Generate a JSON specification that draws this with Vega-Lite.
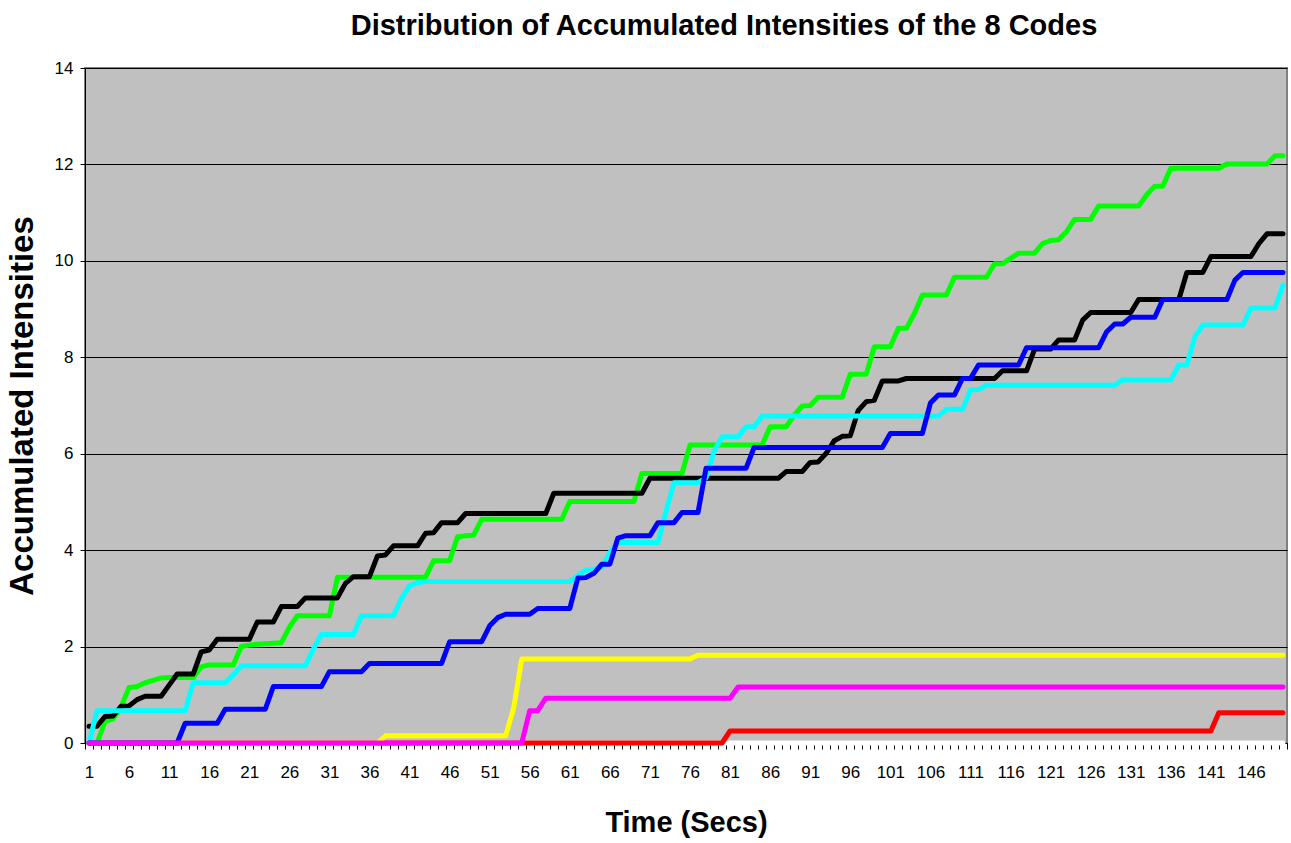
{
"$schema": "https://vega.github.io/schema/vega-lite/v6.json",
"width": 1202,
"height": 675,
"autosize": "none",
"padding": {"left": 85, "top": 68, "right": 4, "bottom": 100},
"background": "white",
"title": {"text": "Distribution of Accumulated Intensities of the 8 Codes", "font": "Liberation Sans", "fontSize": 29, "fontWeight": "bold", "color": "black", "anchor": "middle", "dx": 38, "offset": 18},
"config": {"view": {"fill": "#C0C0C0", "stroke": "#808080", "strokeWidth": 2}},
"data": {"values": [
{"t":1,"w":0,"r":0,"y":0,"g":0,"k":0.35,"c":0,"b":0,"m":0},
{"t":2,"w":0,"r":0,"y":0,"g":0,"k":0.35,"c":0.67,"b":0,"m":0},
{"t":3,"w":0,"r":0,"y":0,"g":0.45,"k":0.55,"c":0.67,"b":0,"m":0},
{"t":4,"w":0,"r":0,"y":0,"g":0.5,"k":0.56,"c":0.67,"b":0,"m":0},
{"t":5,"w":0,"r":0,"y":0,"g":0.75,"k":0.76,"c":0.67,"b":0,"m":0},
{"t":6,"w":0,"r":0,"y":0,"g":1.15,"k":0.77,"c":0.67,"b":0,"m":0},
{"t":7,"w":0,"r":0,"y":0,"g":1.17,"k":0.9,"c":0.67,"b":0,"m":0},
{"t":8,"w":0,"r":0,"y":0,"g":1.25,"k":0.97,"c":0.67,"b":0,"m":0},
{"t":9,"w":0,"r":0,"y":0,"g":1.3,"k":0.97,"c":0.67,"b":0,"m":0},
{"t":10,"w":0,"r":0,"y":0,"g":1.35,"k":0.97,"c":0.67,"b":0,"m":0},
{"t":11,"w":0,"r":0,"y":0,"g":1.36,"k":1.2,"c":0.67,"b":0,"m":0},
{"t":12,"w":0,"r":0,"y":0,"g":1.36,"k":1.43,"c":0.67,"b":0,"m":0},
{"t":13,"w":0,"r":0,"y":0,"g":1.36,"k":1.43,"c":0.67,"b":0.41,"m":0},
{"t":14,"w":0,"r":0,"y":0,"g":1.36,"k":1.43,"c":1.25,"b":0.41,"m":0},
{"t":15,"w":0,"r":0,"y":0,"g":1.58,"k":1.89,"c":1.25,"b":0.41,"m":0},
{"t":16,"w":0,"r":0,"y":0,"g":1.62,"k":1.93,"c":1.25,"b":0.41,"m":0},
{"t":17,"w":0,"r":0,"y":0,"g":1.62,"k":2.15,"c":1.25,"b":0.41,"m":0},
{"t":18,"w":0,"r":0,"y":0,"g":1.62,"k":2.15,"c":1.25,"b":0.7,"m":0},
{"t":19,"w":0,"r":0,"y":0,"g":1.62,"k":2.15,"c":1.41,"b":0.7,"m":0},
{"t":20,"w":0,"r":0,"y":0,"g":2.0,"k":2.15,"c":1.6,"b":0.7,"m":0},
{"t":21,"w":0,"r":0,"y":0,"g":2.03,"k":2.15,"c":1.6,"b":0.7,"m":0},
{"t":22,"w":0,"r":0,"y":0,"g":2.05,"k":2.51,"c":1.6,"b":0.7,"m":0},
{"t":23,"w":0,"r":0,"y":0,"g":2.06,"k":2.51,"c":1.6,"b":0.7,"m":0},
{"t":24,"w":0,"r":0,"y":0,"g":2.07,"k":2.51,"c":1.6,"b":1.17,"m":0},
{"t":25,"w":0,"r":0,"y":0,"g":2.08,"k":2.83,"c":1.6,"b":1.17,"m":0},
{"t":26,"w":0,"r":0,"y":0,"g":2.4,"k":2.83,"c":1.6,"b":1.17,"m":0},
{"t":27,"w":0,"r":0,"y":0,"g":2.64,"k":2.83,"c":1.6,"b":1.17,"m":0},
{"t":28,"w":0,"r":0,"y":0,"g":2.64,"k":3.01,"c":1.6,"b":1.17,"m":0},
{"t":29,"w":0,"r":0,"y":0,"g":2.64,"k":3.01,"c":1.95,"b":1.17,"m":0},
{"t":30,"w":0,"r":0,"y":0,"g":2.64,"k":3.01,"c":2.25,"b":1.17,"m":0},
{"t":31,"w":0,"r":0,"y":0,"g":2.64,"k":3.01,"c":2.25,"b":1.48,"m":0},
{"t":32,"w":0,"r":0,"y":0,"g":3.44,"k":3.01,"c":2.25,"b":1.48,"m":0},
{"t":33,"w":0,"r":0,"y":0,"g":3.44,"k":3.31,"c":2.25,"b":1.48,"m":0},
{"t":34,"w":0,"r":0,"y":0,"g":3.44,"k":3.45,"c":2.25,"b":1.48,"m":0},
{"t":35,"w":0,"r":0,"y":0,"g":3.44,"k":3.45,"c":2.64,"b":1.48,"m":0},
{"t":36,"w":0,"r":0,"y":0,"g":3.44,"k":3.45,"c":2.64,"b":1.65,"m":0},
{"t":37,"w":0,"r":0,"y":0,"g":3.44,"k":3.88,"c":2.64,"b":1.65,"m":0},
{"t":38,"w":0,"r":0,"y":0.15,"g":3.44,"k":3.9,"c":2.64,"b":1.65,"m":0},
{"t":39,"w":0,"r":0,"y":0.15,"g":3.44,"k":4.09,"c":2.64,"b":1.65,"m":0},
{"t":40,"w":0,"r":0,"y":0.15,"g":3.44,"k":4.09,"c":3.0,"b":1.65,"m":0},
{"t":41,"w":0,"r":0,"y":0.15,"g":3.44,"k":4.09,"c":3.26,"b":1.65,"m":0},
{"t":42,"w":0,"r":0,"y":0.15,"g":3.44,"k":4.09,"c":3.33,"b":1.65,"m":0},
{"t":43,"w":0,"r":0,"y":0.15,"g":3.44,"k":4.35,"c":3.35,"b":1.65,"m":0},
{"t":44,"w":0,"r":0,"y":0.15,"g":3.78,"k":4.36,"c":3.35,"b":1.65,"m":0},
{"t":45,"w":0,"r":0,"y":0.15,"g":3.78,"k":4.57,"c":3.35,"b":1.65,"m":0},
{"t":46,"w":0,"r":0,"y":0.15,"g":3.78,"k":4.57,"c":3.35,"b":2.1,"m":0},
{"t":47,"w":0,"r":0,"y":0.15,"g":4.28,"k":4.57,"c":3.35,"b":2.1,"m":0},
{"t":48,"w":0,"r":0,"y":0.15,"g":4.3,"k":4.76,"c":3.35,"b":2.1,"m":0},
{"t":49,"w":0,"r":0,"y":0.15,"g":4.31,"k":4.76,"c":3.35,"b":2.1,"m":0},
{"t":50,"w":0,"r":0,"y":0.15,"g":4.64,"k":4.76,"c":3.35,"b":2.1,"m":0},
{"t":51,"w":0,"r":0,"y":0.15,"g":4.64,"k":4.76,"c":3.35,"b":2.43,"m":0},
{"t":52,"w":0,"r":0,"y":0.15,"g":4.64,"k":4.76,"c":3.35,"b":2.6,"m":0},
{"t":53,"w":0,"r":0,"y":0.15,"g":4.64,"k":4.76,"c":3.35,"b":2.67,"m":0},
{"t":54,"w":0,"r":0,"y":0.73,"g":4.64,"k":4.76,"c":3.35,"b":2.67,"m":0},
{"t":55,"w":0,"r":0,"y":1.74,"g":4.64,"k":4.76,"c":3.35,"b":2.67,"m":0},
{"t":56,"w":0,"r":0,"y":1.74,"g":4.64,"k":4.76,"c":3.35,"b":2.67,"m":0.67},
{"t":57,"w":0,"r":0,"y":1.74,"g":4.64,"k":4.76,"c":3.35,"b":2.79,"m":0.67},
{"t":58,"w":0,"r":0,"y":1.74,"g":4.64,"k":4.76,"c":3.35,"b":2.79,"m":0.93},
{"t":59,"w":0,"r":0,"y":1.74,"g":4.64,"k":5.18,"c":3.35,"b":2.79,"m":0.93},
{"t":60,"w":0,"r":0,"y":1.74,"g":4.64,"k":5.18,"c":3.35,"b":2.79,"m":0.93},
{"t":61,"w":0,"r":0,"y":1.74,"g":5.01,"k":5.18,"c":3.35,"b":2.79,"m":0.93},
{"t":62,"w":0,"r":0,"y":1.74,"g":5.01,"k":5.18,"c":3.47,"b":3.42,"m":0.93},
{"t":63,"w":0,"r":0,"y":1.74,"g":5.01,"k":5.18,"c":3.59,"b":3.43,"m":0.93},
{"t":64,"w":0,"r":0,"y":1.74,"g":5.01,"k":5.18,"c":3.6,"b":3.52,"m":0.93},
{"t":65,"w":0,"r":0,"y":1.74,"g":5.01,"k":5.18,"c":3.65,"b":3.71,"m":0.93},
{"t":66,"w":0,"r":0,"y":1.74,"g":5.01,"k":5.18,"c":3.95,"b":3.71,"m":0.93},
{"t":67,"w":0,"r":0,"y":1.74,"g":5.01,"k":5.18,"c":4.16,"b":4.25,"m":0.93},
{"t":68,"w":0,"r":0,"y":1.74,"g":5.01,"k":5.18,"c":4.16,"b":4.3,"m":0.93},
{"t":69,"w":0,"r":0,"y":1.74,"g":5.01,"k":5.18,"c":4.16,"b":4.3,"m":0.93},
{"t":70,"w":0,"r":0,"y":1.74,"g":5.59,"k":5.18,"c":4.16,"b":4.3,"m":0.93},
{"t":71,"w":0,"r":0,"y":1.74,"g":5.59,"k":5.49,"c":4.16,"b":4.3,"m":0.93},
{"t":72,"w":0,"r":0,"y":1.74,"g":5.59,"k":5.49,"c":4.16,"b":4.57,"m":0.93},
{"t":73,"w":0,"r":0,"y":1.74,"g":5.59,"k":5.49,"c":4.8,"b":4.57,"m":0.93},
{"t":74,"w":0,"r":0,"y":1.74,"g":5.59,"k":5.49,"c":5.4,"b":4.57,"m":0.93},
{"t":75,"w":0,"r":0,"y":1.74,"g":5.59,"k":5.49,"c":5.4,"b":4.78,"m":0.93},
{"t":76,"w":0,"r":0,"y":1.74,"g":6.18,"k":5.49,"c":5.4,"b":4.78,"m":0.93},
{"t":77,"w":0,"r":0,"y":1.82,"g":6.18,"k":5.49,"c":5.4,"b":4.78,"m":0.93},
{"t":78,"w":0,"r":0,"y":1.82,"g":6.18,"k":5.49,"c":5.5,"b":5.7,"m":0.93},
{"t":79,"w":0,"r":0,"y":1.82,"g":6.18,"k":5.49,"c":6.05,"b":5.7,"m":0.93},
{"t":80,"w":0,"r":0,"y":1.82,"g":6.18,"k":5.49,"c":6.35,"b":5.7,"m":0.93},
{"t":81,"w":0,"r":0.25,"y":1.82,"g":6.18,"k":5.49,"c":6.35,"b":5.7,"m":0.93},
{"t":82,"w":0,"r":0.25,"y":1.82,"g":6.18,"k":5.49,"c":6.35,"b":5.7,"m":1.16},
{"t":83,"w":0,"r":0.25,"y":1.82,"g":6.18,"k":5.49,"c":6.56,"b":5.7,"m":1.16},
{"t":84,"w":0,"r":0.25,"y":1.82,"g":6.18,"k":5.49,"c":6.56,"b":6.13,"m":1.16},
{"t":85,"w":0,"r":0.25,"y":1.82,"g":6.18,"k":5.49,"c":6.78,"b":6.13,"m":1.16},
{"t":86,"w":0,"r":0.25,"y":1.82,"g":6.56,"k":5.49,"c":6.78,"b":6.13,"m":1.16},
{"t":87,"w":0,"r":0.25,"y":1.82,"g":6.56,"k":5.49,"c":6.78,"b":6.13,"m":1.16},
{"t":88,"w":0,"r":0.25,"y":1.82,"g":6.56,"k":5.63,"c":6.78,"b":6.13,"m":1.16},
{"t":89,"w":0,"r":0.25,"y":1.82,"g":6.8,"k":5.63,"c":6.78,"b":6.13,"m":1.16},
{"t":90,"w":0,"r":0.25,"y":1.82,"g":6.99,"k":5.63,"c":6.78,"b":6.13,"m":1.16},
{"t":91,"w":0,"r":0.25,"y":1.82,"g":7.0,"k":5.82,"c":6.78,"b":6.13,"m":1.16},
{"t":92,"w":0,"r":0.25,"y":1.82,"g":7.17,"k":5.83,"c":6.78,"b":6.13,"m":1.16},
{"t":93,"w":0,"r":0.25,"y":1.82,"g":7.17,"k":6.01,"c":6.78,"b":6.13,"m":1.16},
{"t":94,"w":0,"r":0.25,"y":1.82,"g":7.17,"k":6.27,"c":6.78,"b":6.13,"m":1.16},
{"t":95,"w":0,"r":0.25,"y":1.82,"g":7.17,"k":6.36,"c":6.78,"b":6.13,"m":1.16},
{"t":96,"w":0,"r":0.25,"y":1.82,"g":7.65,"k":6.37,"c":6.78,"b":6.13,"m":1.16},
{"t":97,"w":0,"r":0.25,"y":1.82,"g":7.65,"k":6.9,"c":6.78,"b":6.13,"m":1.16},
{"t":98,"w":0,"r":0.25,"y":1.82,"g":7.65,"k":7.08,"c":6.78,"b":6.13,"m":1.16},
{"t":99,"w":0,"r":0.25,"y":1.82,"g":8.22,"k":7.11,"c":6.78,"b":6.13,"m":1.16},
{"t":100,"w":0,"r":0.25,"y":1.82,"g":8.22,"k":7.51,"c":6.78,"b":6.13,"m":1.16},
{"t":101,"w":0,"r":0.25,"y":1.82,"g":8.22,"k":7.51,"c":6.78,"b":6.42,"m":1.16},
{"t":102,"w":0,"r":0.25,"y":1.82,"g":8.6,"k":7.51,"c":6.78,"b":6.42,"m":1.16},
{"t":103,"w":0,"r":0.25,"y":1.82,"g":8.6,"k":7.56,"c":6.78,"b":6.42,"m":1.16},
{"t":104,"w":0,"r":0.25,"y":1.82,"g":8.91,"k":7.56,"c":6.78,"b":6.42,"m":1.16},
{"t":105,"w":0,"r":0.25,"y":1.82,"g":9.29,"k":7.56,"c":6.78,"b":6.42,"m":1.16},
{"t":106,"w":0,"r":0.25,"y":1.82,"g":9.29,"k":7.56,"c":6.78,"b":7.05,"m":1.16},
{"t":107,"w":0,"r":0.25,"y":1.82,"g":9.29,"k":7.56,"c":6.78,"b":7.22,"m":1.16},
{"t":108,"w":0,"r":0.25,"y":1.82,"g":9.29,"k":7.56,"c":6.92,"b":7.22,"m":1.16},
{"t":109,"w":0,"r":0.25,"y":1.82,"g":9.66,"k":7.56,"c":6.92,"b":7.22,"m":1.16},
{"t":110,"w":0,"r":0.25,"y":1.82,"g":9.66,"k":7.56,"c":6.92,"b":7.56,"m":1.16},
{"t":111,"w":0,"r":0.25,"y":1.82,"g":9.66,"k":7.56,"c":7.32,"b":7.56,"m":1.16},
{"t":112,"w":0,"r":0.25,"y":1.82,"g":9.66,"k":7.56,"c":7.33,"b":7.84,"m":1.16},
{"t":113,"w":0,"r":0.25,"y":1.82,"g":9.66,"k":7.56,"c":7.42,"b":7.84,"m":1.16},
{"t":114,"w":0,"r":0.25,"y":1.82,"g":9.94,"k":7.56,"c":7.42,"b":7.84,"m":1.16},
{"t":115,"w":0,"r":0.25,"y":1.82,"g":9.94,"k":7.72,"c":7.42,"b":7.84,"m":1.16},
{"t":116,"w":0,"r":0.25,"y":1.82,"g":10.05,"k":7.72,"c":7.42,"b":7.84,"m":1.16},
{"t":117,"w":0,"r":0.25,"y":1.82,"g":10.16,"k":7.72,"c":7.42,"b":7.84,"m":1.16},
{"t":118,"w":0,"r":0.25,"y":1.82,"g":10.16,"k":7.72,"c":7.42,"b":8.2,"m":1.16},
{"t":119,"w":0,"r":0.25,"y":1.82,"g":10.16,"k":8.17,"c":7.42,"b":8.2,"m":1.16},
{"t":120,"w":0,"r":0.25,"y":1.82,"g":10.36,"k":8.17,"c":7.42,"b":8.2,"m":1.16},
{"t":121,"w":0,"r":0.25,"y":1.82,"g":10.42,"k":8.17,"c":7.42,"b":8.2,"m":1.16},
{"t":122,"w":0,"r":0.25,"y":1.82,"g":10.44,"k":8.36,"c":7.42,"b":8.2,"m":1.16},
{"t":123,"w":0,"r":0.25,"y":1.82,"g":10.61,"k":8.36,"c":7.42,"b":8.2,"m":1.16},
{"t":124,"w":0,"r":0.25,"y":1.82,"g":10.86,"k":8.36,"c":7.42,"b":8.2,"m":1.16},
{"t":125,"w":0,"r":0.25,"y":1.82,"g":10.86,"k":8.77,"c":7.42,"b":8.2,"m":1.16},
{"t":126,"w":0,"r":0.25,"y":1.82,"g":10.86,"k":8.93,"c":7.42,"b":8.2,"m":1.16},
{"t":127,"w":0,"r":0.25,"y":1.82,"g":11.14,"k":8.93,"c":7.42,"b":8.2,"m":1.16},
{"t":128,"w":0,"r":0.25,"y":1.82,"g":11.14,"k":8.93,"c":7.42,"b":8.53,"m":1.16},
{"t":129,"w":0,"r":0.25,"y":1.82,"g":11.14,"k":8.93,"c":7.42,"b":8.69,"m":1.16},
{"t":130,"w":0,"r":0.25,"y":1.82,"g":11.14,"k":8.93,"c":7.53,"b":8.69,"m":1.16},
{"t":131,"w":0,"r":0.25,"y":1.82,"g":11.14,"k":8.93,"c":7.53,"b":8.83,"m":1.16},
{"t":132,"w":0,"r":0.25,"y":1.82,"g":11.14,"k":9.2,"c":7.53,"b":8.83,"m":1.16},
{"t":133,"w":0,"r":0.25,"y":1.82,"g":11.37,"k":9.2,"c":7.53,"b":8.83,"m":1.16},
{"t":134,"w":0,"r":0.25,"y":1.82,"g":11.55,"k":9.2,"c":7.53,"b":8.83,"m":1.16},
{"t":135,"w":0,"r":0.25,"y":1.82,"g":11.55,"k":9.2,"c":7.53,"b":9.2,"m":1.16},
{"t":136,"w":0,"r":0.25,"y":1.82,"g":11.92,"k":9.2,"c":7.53,"b":9.2,"m":1.16},
{"t":137,"w":0,"r":0.25,"y":1.82,"g":11.92,"k":9.2,"c":7.84,"b":9.2,"m":1.16},
{"t":138,"w":0,"r":0.25,"y":1.82,"g":11.92,"k":9.76,"c":7.84,"b":9.2,"m":1.16},
{"t":139,"w":0,"r":0.25,"y":1.82,"g":11.92,"k":9.76,"c":8.43,"b":9.2,"m":1.16},
{"t":140,"w":0,"r":0.25,"y":1.82,"g":11.92,"k":9.76,"c":8.67,"b":9.2,"m":1.16},
{"t":141,"w":0,"r":0.25,"y":1.82,"g":11.92,"k":10.09,"c":8.67,"b":9.2,"m":1.16},
{"t":142,"w":0,"r":0.63,"y":1.82,"g":11.92,"k":10.09,"c":8.67,"b":9.2,"m":1.16},
{"t":143,"w":0,"r":0.63,"y":1.82,"g":12.01,"k":10.09,"c":8.67,"b":9.2,"m":1.16},
{"t":144,"w":0,"r":0.63,"y":1.82,"g":12.01,"k":10.09,"c":8.67,"b":9.6,"m":1.16},
{"t":145,"w":0,"r":0.63,"y":1.82,"g":12.01,"k":10.09,"c":8.67,"b":9.76,"m":1.16},
{"t":146,"w":0,"r":0.63,"y":1.82,"g":12.01,"k":10.09,"c":9.02,"b":9.76,"m":1.16},
{"t":147,"w":0,"r":0.63,"y":1.82,"g":12.01,"k":10.36,"c":9.02,"b":9.76,"m":1.16},
{"t":148,"w":0,"r":0.63,"y":1.82,"g":12.01,"k":10.56,"c":9.02,"b":9.76,"m":1.16},
{"t":149,"w":0,"r":0.63,"y":1.82,"g":12.18,"k":10.56,"c":9.02,"b":9.76,"m":1.16},
{"t":150,"w":0,"r":0.63,"y":1.82,"g":12.18,"k":10.56,"c":9.5,"b":9.76,"m":1.16}
]},
"transform": [{"fold": ["w","r","y","g","k","c","b","m"], "as": ["code","value"]}],
"mark": {"type": "line", "strokeWidth": 5, "strokeCap": "round", "strokeJoin": "round"},
"encoding": {
"x": {"field": "t", "type": "ordinal", "bandPosition": 0.5, "scale": {"type": "band", "paddingInner": 0, "paddingOuter": 0},
"axis": {"title": "Time (Secs)", "titleFont": "Liberation Sans", "titleFontSize": 29, "titleFontWeight": "bold", "titleColor": "black", "titlePadding": 28,
"tickBand": "extent", "labelExpr": "(datum.value - 1) % 5 === 0 ? datum.label : ''", "labelAngle": 0, "labelOverlap": false, "labelFont": "Liberation Sans", "labelFontSize": 17, "labelColor": "black", "labelPadding": 15, "tickSize": 6, "tickColor": "black", "domainColor": "black", "grid": false}},
"y": {"field": "value", "type": "quantitative", "scale": {"domain": [0, 14], "nice": false},
"axis": {"title": "Accumulated Intensities", "titleFont": "Liberation Sans", "titleFontSize": 33, "titleFontWeight": "bold", "titleColor": "black", "titlePadding": 15,
"values": [0, 2, 4, 6, 8, 10, 12, 14], "grid": true, "gridColor": "black", "gridWidth": 1, "gridOpacity": 1, "tickSize": 5, "tickColor": "black", "domainColor": "black", "labelFont": "Liberation Sans", "labelFontSize": 17, "labelColor": "black", "labelPadding": 7}},
"color": {"field": "code", "type": "nominal", "scale": {"domain": ["w","r","y","g","k","c","b","m"], "range": ["#FFFFFF","#FF0000","#FFFF00","#00FF00","#000000","#00FFFF","#0000FF","#FF00FF"]}, "legend": null}
}
}
